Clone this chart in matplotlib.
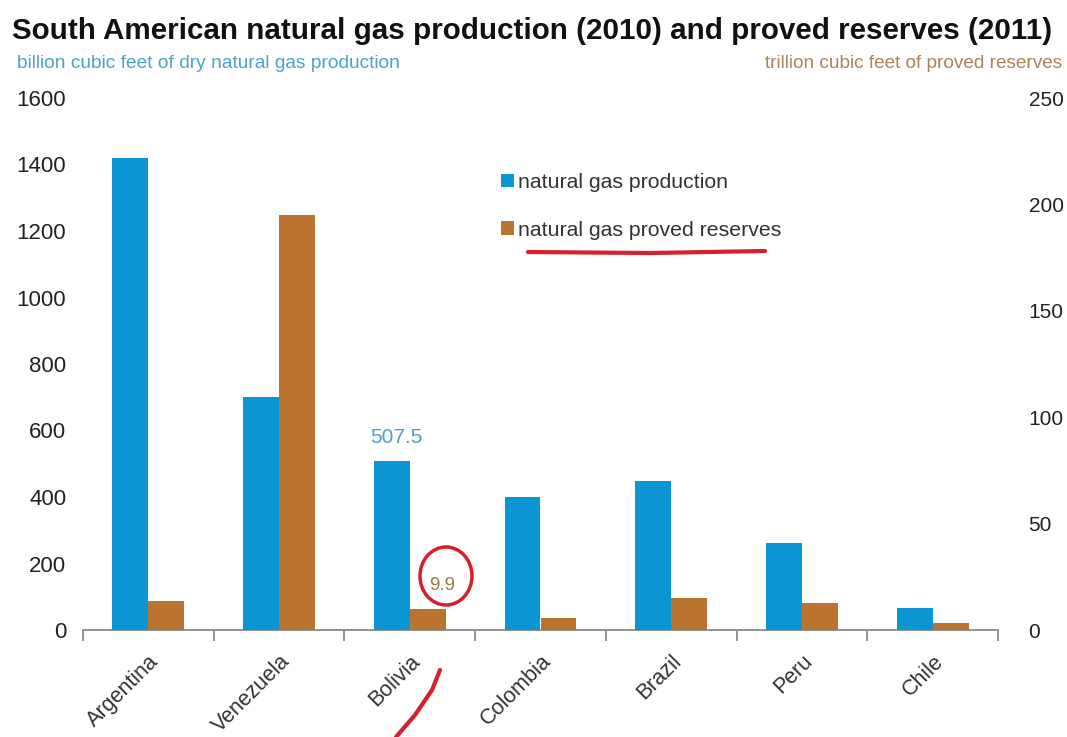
import matplotlib
matplotlib.use("Agg")
import matplotlib.pyplot as plt
from matplotlib.lines import Line2D
from matplotlib.patches import Ellipse
import numpy as np

countries = ["Argentina", "Venezuela", "Bolivia", "Colombia", "Brazil", "Peru", "Chile"]
production = [1420, 700, 507.5, 400, 448, 262, 66]      # billion cubic feet (2010)
reserves = [13.4, 195.1, 9.9, 5.5, 15.0, 12.5, 3.5]      # trillion cubic feet (2011)
left_ticks = [0, 200, 400, 600, 800, 1000, 1200, 1400, 1600]
right_ticks = [0, 50, 100, 150, 200, 250]

BLUE = "#0a96d4"
BROWN = "#bb7330"
FONT = ["Liberation Sans", "DejaVu Sans"]
plt.rcParams["font.family"] = FONT

W, H = 1067, 737
fig = plt.figure(figsize=(W / 100, H / 100), dpi=100)
fig.patch.set_facecolor("white")

ax = fig.add_axes([83 / W, (H - 630) / H, 915 / W, 532 / H])
ax2 = ax.twinx()

x = np.arange(len(countries))
bw = 0.275
b1 = ax.bar(x - bw / 2, production, width=bw, color=BLUE, label="natural gas production", zorder=3)
b2 = ax2.bar(x + bw / 2, reserves, width=bw, color=BROWN, label="natural gas proved reserves", zorder=3)

ax.set_xlim(-0.5, len(countries) - 0.5)
ax.set_ylim(0, 1600)
ax2.set_ylim(0, 250)
ax.set_yticks(left_ticks)
ax2.set_yticks(right_ticks)

for a in (ax, ax2):
    for s in ("top", "left", "right", "bottom"):
        a.spines[s].set_visible(False)
ax.spines["bottom"].set_visible(True)
ax.spines["bottom"].set_color("#8a8a8a")
ax.spines["bottom"].set_linewidth(1.3)

ax.tick_params(axis="y", length=0, labelsize=16, labelcolor="#222222", pad=12)
ax2.tick_params(axis="y", length=0, labelsize=15, labelcolor="#222222", pad=22)

ax.set_xticks(x)
ax.set_xticklabels(countries, rotation=45, ha="right", rotation_mode="anchor",
                   fontsize=15.5, color="#333333")
ax.tick_params(axis="x", which="major", length=0, pad=15)
ax.set_xticks(np.arange(-0.5, len(countries)), minor=True)
ax.tick_params(axis="x", which="minor", length=8, direction="out", color="#8a8a8a", width=1.3)

# data labels
bi = countries.index("Bolivia")
ax.annotate(f"{production[bi]}", (x[bi] - bw / 2, production[bi]), xytext=(3, 10),
            textcoords="offset points", ha="center", va="bottom", fontsize=15, color="#4d9fc4")
ax2.annotate(f"{reserves[bi]}", (x[bi] + bw / 2, reserves[bi]), xytext=(10, 11),
             textcoords="offset points", ha="center", va="bottom", fontsize=13.5, color="#9a7a3c")

# legend
leg = ax.legend(handles=[b1, b2], loc="upper left", bbox_to_anchor=(0.448, 0.875), frameon=False,
                fontsize=15.3, handlelength=0.6, handleheight=0.6, handletextpad=0.2,
                labelspacing=1.35, borderaxespad=0)
for t in leg.get_texts():
    t.set_color("#333333")

# titles
fig.text(12 / W, 1 - 31 / H, "South American natural gas production (2010) and proved reserves (2011)",
         fontsize=21.3, fontweight="bold", color="#111111", va="center", ha="left")
fig.text(17 / W, 1 - 64 / H, "billion cubic feet of dry natural gas production",
         fontsize=13.8, color="#4ba3c6", va="center", ha="left")
fig.text(1062 / W, 1 - 64 / H, "trillion cubic feet of proved reserves",
         fontsize=13.7, color="#a8845a", va="center", ha="right")

# hand-drawn red annotations
RED = "#d61f2c"
def fx(px):
    return px / W
def fy(py):
    return 1 - py / H
fig.add_artist(Line2D([fx(528), fx(650), fx(765)], [fy(252), fy(253), fy(251)],
                      color=RED, lw=3, solid_capstyle="round"))
fig.add_artist(Ellipse((fx(446), fy(576)), 52 / W, 58 / H, angle=0, fill=False,
                       edgecolor=RED, lw=2.5))
fig.add_artist(Line2D([fx(440), fx(432), fx(415), fx(396)], [fy(670), fy(690), fy(715), fy(737)],
                      color=RED, lw=3, solid_capstyle="round"))

fig.savefig("out.png", dpi=100, facecolor="white")
